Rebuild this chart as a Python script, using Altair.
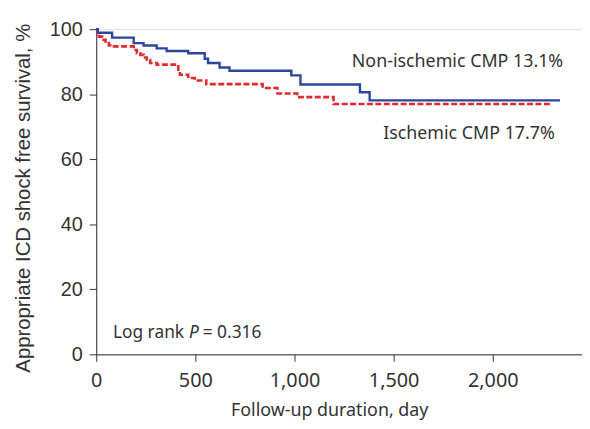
import altair as alt
import pandas as pd

# Non-ischemic CMP (solid blue) step points: day, survival %
non_days = [0, 8, 80, 189, 239, 305, 355, 464, 547, 564, 622, 672, 984, 1030, 1330, 1379, 2339]
non_surv = [100, 98.9, 97.4, 95.7, 95.0, 94.1, 93.3, 92.6, 90.9, 89.6, 88.2, 87.2, 85.8, 83.0, 80.6, 78.1, 78.1]

# Ischemic CMP (dashed red)
isc_days = [0, 5, 14, 30, 47, 64, 71, 189, 205, 222, 239, 255, 272, 305, 414, 422, 464, 497, 555, 839, 914, 1014, 1197, 2297]
isc_surv = [100, 98.5, 97.7, 96.7, 95.7, 95.0, 94.7, 93.6, 92.6, 92.1, 91.3, 90.6, 89.6, 89.1, 87.5, 86.0, 85.0, 84.2, 83.1, 81.9, 80.2, 79.1, 77.0, 77.0]

x_ticks = [0, 500, 1000, 1500, 2000]
y_ticks = [0, 20, 40, 60, 80, 100]

ann_text = ["Non-ischemic CMP 13.1%", "Ischemic CMP 17.7%"]
ann_x = [1289, 1447]
ann_y = [88.3, 66.3]

lr_text = ["Log rank", "= 0.316"]
lr_x = [84, 537]
lr_y = [5.0, 5.0]
lr_italic_text = ["P"]
lr_italic_x = [468]
lr_italic_y = [5.0]

TXT = "#333333"
FONT_X = "Noto Sans"
FONT_Y = "Liberation Sans"

df_non = pd.DataFrame({"day": non_days, "surv": non_surv})
df_isc = pd.DataFrame({"day": isc_days, "surv": isc_surv})
df_ann = pd.DataFrame({"day": ann_x, "surv": ann_y, "t": ann_text})
df_lr = pd.DataFrame({"day": lr_x, "surv": lr_y, "t": lr_text})
df_lri = pd.DataFrame({"day": lr_italic_x, "surv": lr_italic_y, "t": lr_italic_text})

xs = alt.Scale(domain=[0, 2450], nice=False, zero=False)
ys = alt.Scale(domain=[0, 100], nice=False)

x_axis = alt.Axis(values=x_ticks, format=",d", grid=False, domainColor=TXT, tickColor=TXT,
                  tickSize=7, labelPadding=9, labelFont=FONT_X, labelFontSize=20,
                  labelColor=TXT, title="Follow-up duration, day", titleFont=FONT_X,
                  titleFontSize=18, titleFontWeight="normal", titleColor=TXT,
                  titleX=235, titleY=62, titleBaseline="alphabetic", labelFlush=False)
y_axis = alt.Axis(values=y_ticks, grid=False, domainColor=TXT, tickColor=TXT,
                  tickSize=7, labelPadding=7, labelFont=FONT_Y, labelFontSize=20,
                  labelColor=TXT, title="Appropriate ICD shock free survival, %",
                  titleFont=FONT_Y, titleFontSize=20.5, titleFontWeight="normal",
                  titleColor=TXT, titleX=-67, titleY=170, titleAlign="center",
                  titleBaseline="alphabetic", titleAngle=270)

base_x = alt.X("day:Q", scale=xs, axis=x_axis)
base_y = alt.Y("surv:Q", scale=ys, axis=y_axis)

isc = alt.Chart(df_isc).mark_line(interpolate="step-after", color="#E02A30",
                                  strokeWidth=2.6, strokeDash=[6, 2.5]).encode(x=base_x, y=base_y)
non = alt.Chart(df_non).mark_line(interpolate="step-after", color="#2B469B",
                                  strokeWidth=2.4).encode(x="day:Q", y="surv:Q")

ann = alt.Chart(df_ann).mark_text(align="left", baseline="alphabetic", font=FONT_X,
                                  fontSize=18, color=TXT).encode(x="day:Q", y="surv:Q", text="t:N")
lr = alt.Chart(df_lr).mark_text(align="left", baseline="alphabetic", font=FONT_X,
                                fontSize=17.5, color=TXT).encode(x="day:Q", y="surv:Q", text="t:N")
lri = alt.Chart(df_lri).mark_text(align="left", baseline="alphabetic", font=FONT_X,
                                  fontSize=17.5, fontStyle="italic", color=TXT).encode(
    x="day:Q", y="surv:Q", text="t:N")

chart = alt.layer(isc, non, ann, lr, lri).properties(
    width=490, height=328,
    autosize=alt.AutoSizeParams(type="none"),
    padding={"left": 89, "top": 19.5, "right": 0, "bottom": 80},
).configure_view(stroke=None).configure(font=FONT_X)

chart.save("out.html", embed_options={"renderer": "svg", "actions": False})
